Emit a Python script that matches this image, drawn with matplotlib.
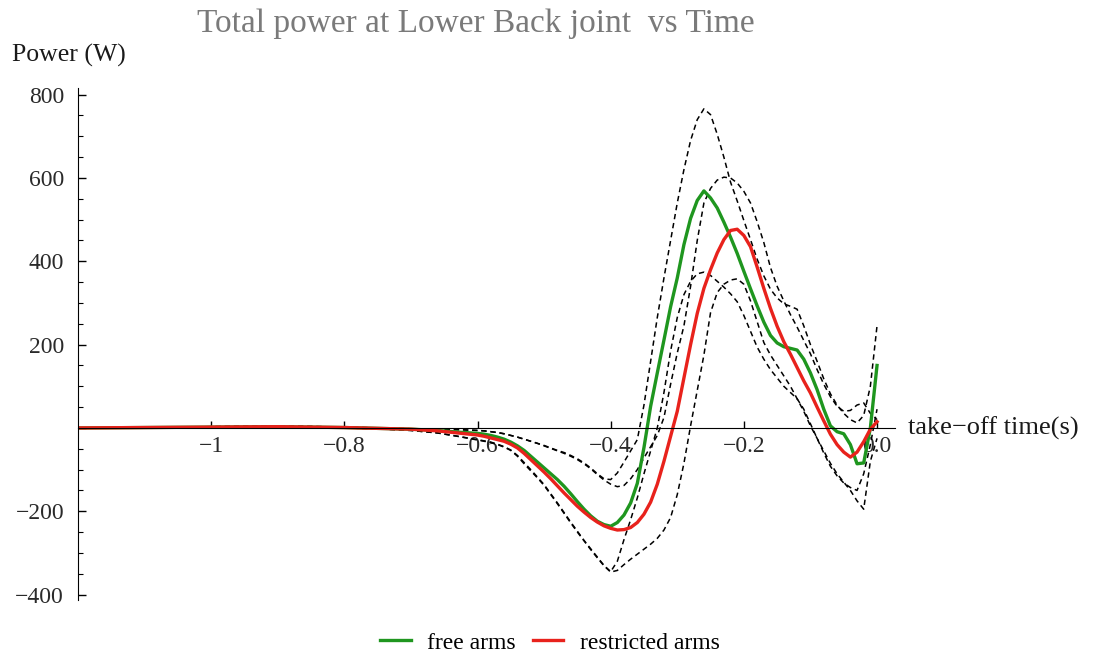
import numpy as np
import matplotlib.pyplot as plt
from matplotlib.ticker import FixedLocator, FixedFormatter, MultipleLocator

plt.rcParams['font.family'] = ['Liberation Serif', 'DejaVu Serif']

# sample times (s before take-off)
t_flat = [-1.2, -1.1, -1.0, -0.9, -0.8, -0.75, -0.7, -0.66, -0.63]
t = np.r_[t_flat, np.round(np.arange(-0.60, 0.0001, 0.01), 2)]

# mean power, free arms (W)
free_mean = [0, 1, 2, 3, 1, -1, -3, -6, -10,
             -13, -15, -18, -22, -27, -34, -43, -54, -68, -82,
             -96, -110, -124, -140, -158, -177, -195, -211, -224, -232,
             -236, -227, -209, -180, -133, -47, 52, 132, 211, 291,
             360, 440, 503, 546, 569, 552, 528, 494, 458, 419,
             376, 334, 293, 254, 222, 204, 195, 191, 187, 165,
             132, 92, 45, 5, -9, -14, -40, -86, -84, 0,
             150]

# mean power, restricted arms (W)
restr_mean = [0, 1, 2, 3, 1, -1, -3, -7, -12,
              -17, -20, -24, -28, -32, -39, -48, -61, -76, -91,
              -106, -122, -139, -156, -172, -188, -202, -215, -226, -235,
              -241, -245, -244, -239, -227, -207, -178, -135, -80, -20,
              40, 120, 200, 275, 335, 380, 420, 452, 474, 477,
              462, 435, 386, 335, 287, 244, 207, 177, 145, 113,
              84, 50, 17, -15, -40, -58, -70, -58, -33, -3,
              15]

# mean +/- sd bands
free_hi = [0, 1, 3, 5, 2, 0, -2, -3, -4,
           -6, -7, -9, -11, -14, -18, -22, -27, -32, -37,
           -42, -48, -54, -59, -66, -74, -84, -96, -110, -122,
           -124, -108, -82, -55, -28, 55, 160, 265, 360, 450,
           540, 620, 690, 740, 766, 752, 705, 650, 590, 545,
           498, 452, 405, 365, 333, 312, 298, 292, 285, 245,
           200, 160, 118, 82, 55, 35, 20, 12, 30, 100,
           245]

free_lo = [0, 0, 1, 2, 0, -2, -6, -12, -20,
           -28, -31, -34, -39, -45, -53, -66, -83, -100, -118,
           -136, -158, -180, -203, -226, -248, -270, -290, -310, -330,
           -345, -320, -268, -220, -168, -110, -55, 0, 85, 185,
           265, 320, 352, 370, 374, 366, 352, 338, 322, 303,
           270, 232, 194, 165, 140, 120, 100, 85, 70, 45,
           10, -25, -60, -92, -115, -132, -143, -150, -110, -40,
           45]

restr_hi = [0, 1, 3, 5, 2, 0, -2, -3, -4,
            -6, -7, -9, -11, -14, -18, -22, -27, -32, -37,
            -43, -49, -55, -61, -68, -76, -86, -98, -112, -125,
            -135, -141, -138, -122, -100, -72, -45, -18, 25, 105,
            180, 245, 340, 450, 540, 575, 595, 602, 600, 588,
            568, 540, 495, 445, 385, 340, 305, 272, 242, 210,
            178, 140, 105, 75, 52, 40, 42, 55, 60, 35,
            20]

restr_lo = [0, 0, 1, 2, 0, -2, -6, -12, -20,
            -29, -32, -35, -40, -46, -54, -68, -86, -103, -120,
            -138, -160, -182, -205, -228, -250, -271, -292, -312, -331,
            -346, -342, -328, -315, -303, -291, -279, -265, -245, -215,
            -160, -85, 5, 90, 175, 277, 325, 345, 355, 358,
            345, 305, 255, 205, 175, 150, 125, 100, 70, 40,
            5, -25, -55, -85, -110, -130, -150, -175, -195, -80,
            -25]

x_ticks = [-1.0, -0.8, -0.6, -0.4, -0.2, 0.0]
x_labels = ['\u22121', '\u22120.8', '\u22120.6', '\u22120.4', '\u22120.2', '0.0']
y_ticks = [-400, -200, 0, 200, 400, 600, 800]
y_labels = ['\u2212400', '\u2212200', '', '200', '400', '600', '800']

fig = plt.figure(figsize=(10.94, 6.55), dpi=100)
ax = fig.add_axes([78/1094, 55/655, (895-78)/1094, (600-88)/655])
ax.set_xlim(-1.2, 0.027)
ax.set_ylim(-413, 816)

# spines: y axis on the left edge, x axis through zero
ax.spines['top'].set_visible(False)
ax.spines['right'].set_visible(False)
ax.spines['bottom'].set_position(('data', 0))

for band in [free_hi, free_lo, restr_hi, restr_lo]:
    ax.plot(t, band, color='black', lw=1.1, dashes=(3.5, 2.5))

green, = ax.plot(t, free_mean, color='#1f961f', lw=2.4, label='free arms')
red, = ax.plot(t, restr_mean, color='#e8221c', lw=2.4, label='restricted arms')

ax.xaxis.set_major_locator(FixedLocator(x_ticks))
ax.xaxis.set_major_formatter(FixedFormatter(x_labels))
ax.yaxis.set_major_locator(FixedLocator(y_ticks))
ax.yaxis.set_major_formatter(FixedFormatter(y_labels))
ax.yaxis.set_minor_locator(MultipleLocator(50))

ax.tick_params(axis='x', direction='in', length=5, width=1, pad=6,
               labelsize=17, labelcolor='#2a2a2a')
ax.tick_params(axis='y', which='major', direction='in', length=6, width=1,
               pad=10, labelsize=17, labelcolor='#2a2a2a')
ax.tick_params(axis='y', which='minor', direction='in', length=3.5, width=0.8)

fig.text(476/1094, 1 - 24/655, 'Total power at Lower Back joint  vs Time',
         ha='center', va='center', fontsize=24, color='#7a7a7a')
fig.text(12/1094, 1 - 55/655, 'Power (W)', ha='left', va='center',
         fontsize=18.5, color='#1a1a1a')
fig.text(908/1094, 1 - 428/655, 'take\u2212off time(s)', ha='left',
         va='center', fontsize=19, color='#1a1a1a')

fig.legend(handles=[green, red], loc='center', bbox_to_anchor=(550/1094, 1 - 643/655),
           ncol=2, frameon=False, fontsize=17, handlelength=1.3,
           columnspacing=0.7, handletextpad=0.7)

fig.savefig('out.png', dpi=100)
